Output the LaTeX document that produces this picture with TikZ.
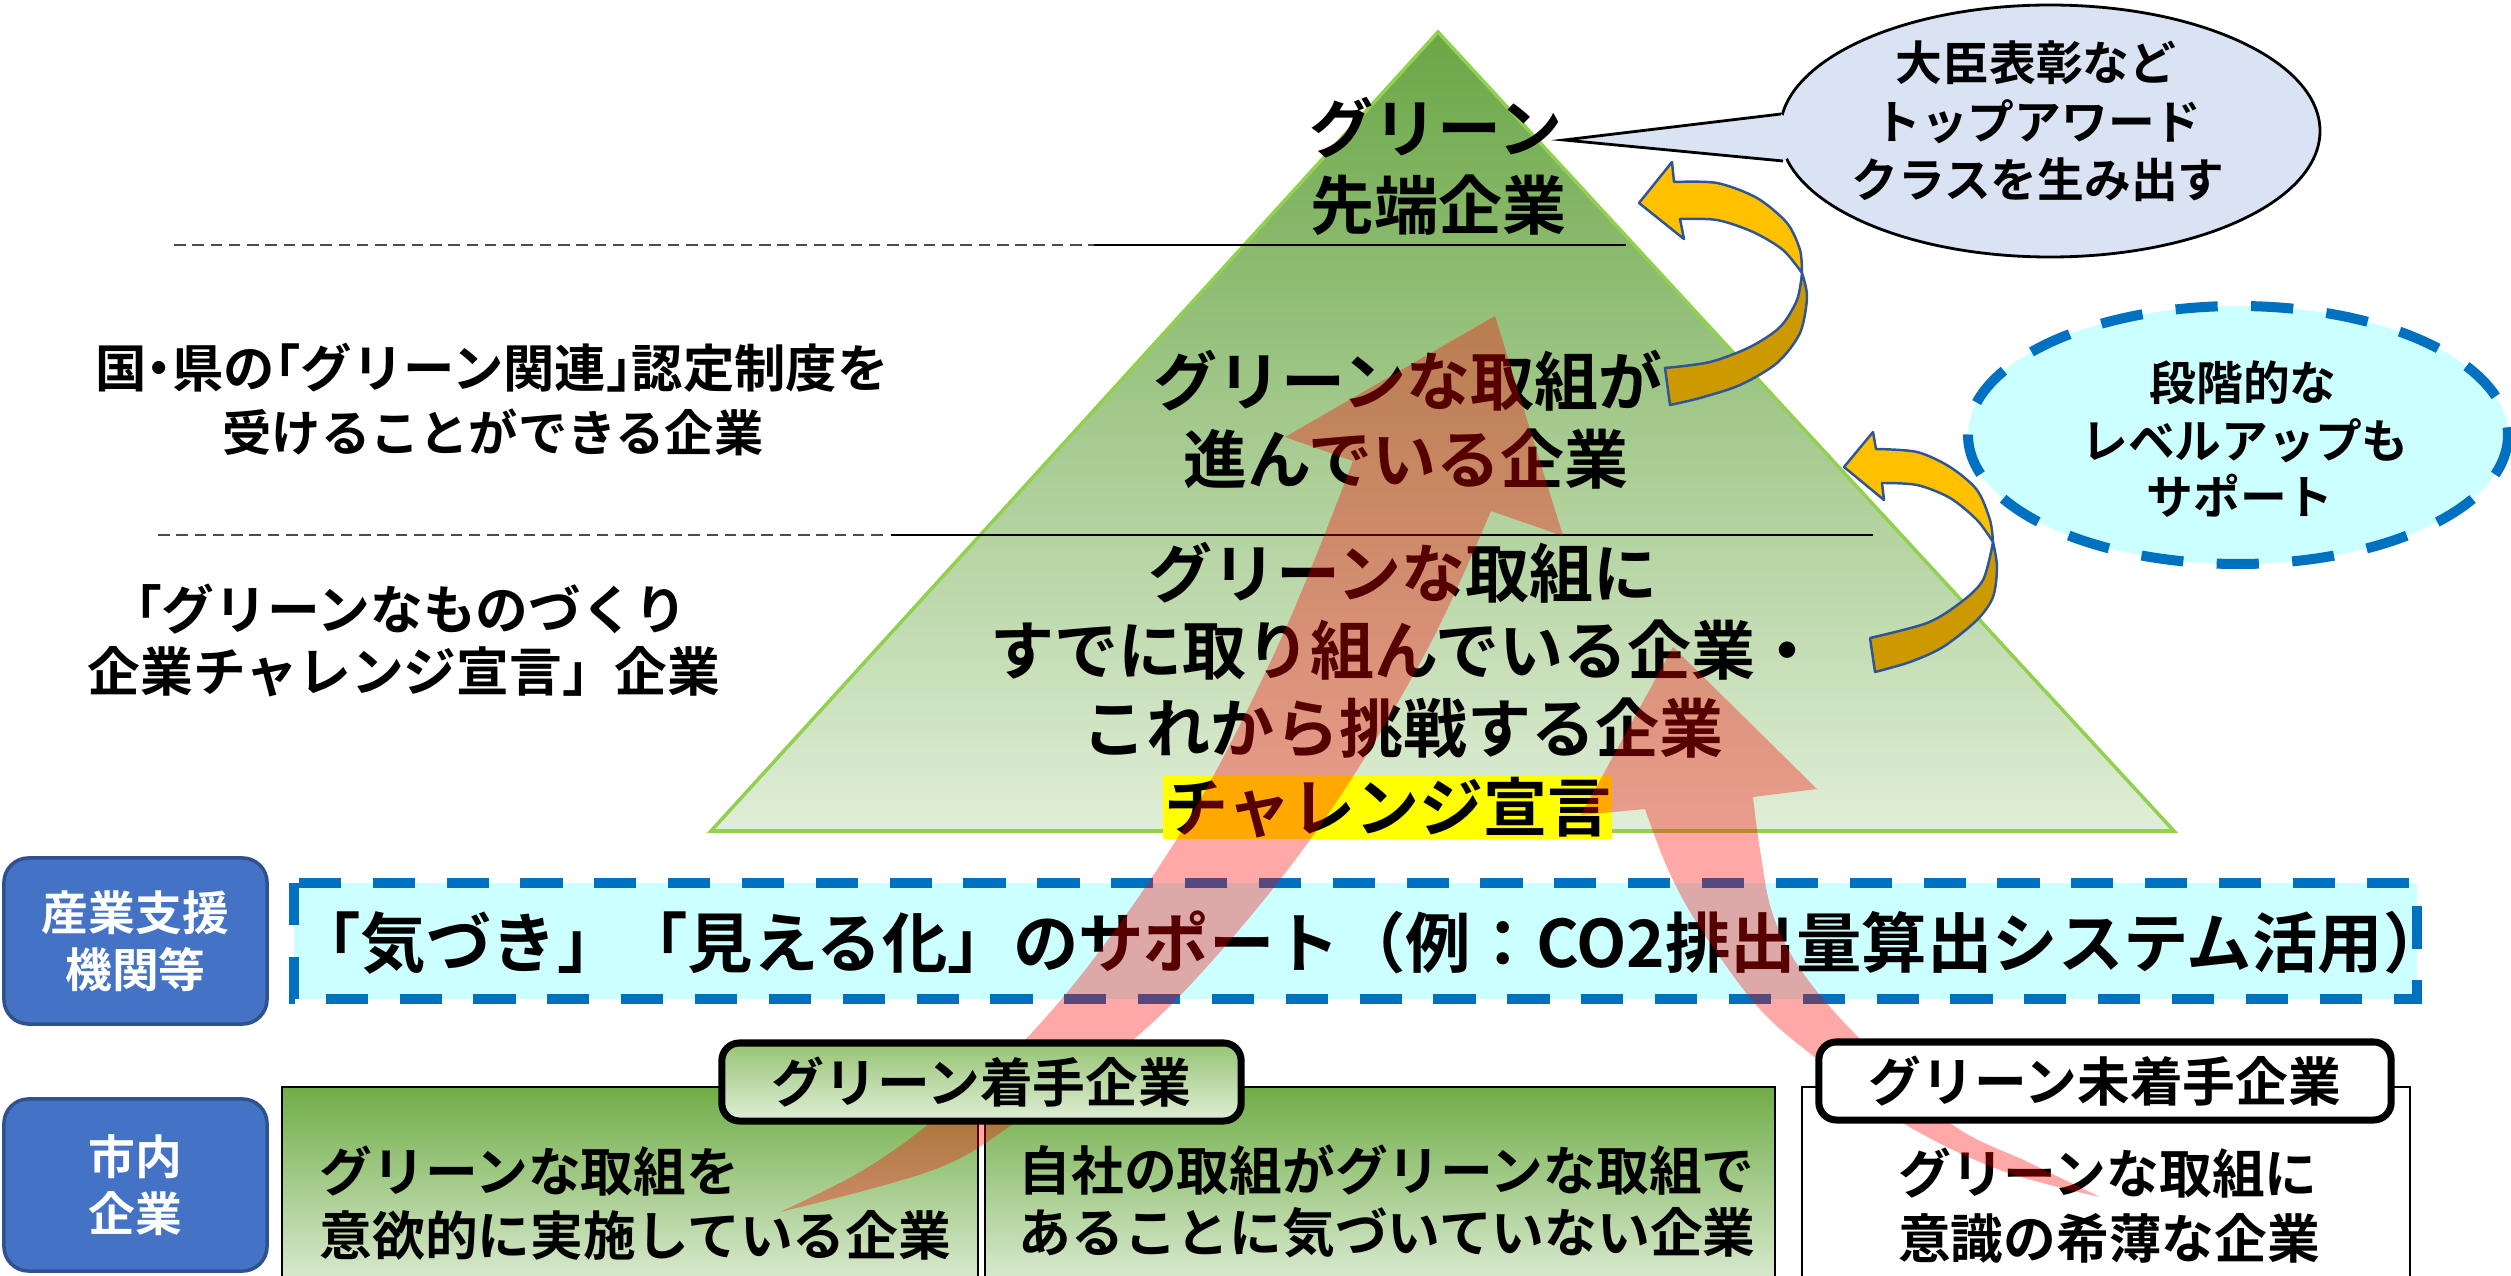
\documentclass[tikz,border=0pt]{standalone}
\usepackage{fontspec}
\setmainfont{Noto Sans CJK JP}[BoldFont=* Bold]
\definecolor{pyrtop}{RGB}{106,166,70}
\definecolor{pyrbot}{RGB}{224,238,215}
\definecolor{pyredge}{RGB}{146,208,80}
\definecolor{bubblefill}{RGB}{218,227,243}
\definecolor{cyanfill}{RGB}{204,255,255}
\definecolor{dashblue}{RGB}{0,112,192}
\definecolor{boxblue}{RGB}{68,114,196}
\definecolor{boxblueedge}{RGB}{47,82,143}
\definecolor{goldA}{RGB}{255,192,0}
\definecolor{goldB}{RGB}{204,153,0}
\definecolor{arrowedge}{RGB}{47,85,151}
\definecolor{hl}{RGB}{255,255,0}
\definecolor{gtop}{RGB}{112,173,71}
\definecolor{gmid}{RGB}{195,222,172}
\definecolor{gbot}{RGB}{222,237,214}
\definecolor{ltop}{RGB}{150,196,115}
\definecolor{lbot}{RGB}{224,238,216}
\newcommand\myBig{\fontsize{18.2pt}{22pt}\selectfont\bfseries}
\newcommand\mySup{\fontsize{18.6pt}{22pt}\selectfont\bfseries}
\newcommand\myMid{\fontsize{15pt}{18pt}\selectfont\bfseries}
\newcommand\mySml{\fontsize{13.3pt}{16.2pt}\selectfont\bfseries}
\newcommand\myLeft{\fontsize{14pt}{17pt}\selectfont\bfseries}
\newcommand\myLeftA{\fontsize{14.6pt}{17pt}\selectfont\bfseries}
\begin{document}
\begin{tikzpicture}[x=0.01cm,y=-0.01cm,
  bigtxt/.style={inner sep=0pt,font=\myBig},
  midtxt/.style={inner sep=0pt,font=\myMid},
  smltxt/.style={inner sep=0pt,font=\mySml},
  lefttxt/.style={inner sep=0pt,font=\myLeft},
  linedash/.style={draw=black!70,line width=0.5pt,dash pattern=on 3.3pt off 1.9pt},
  linesolid/.style={draw=black,line width=0.5pt},
  redarrow/.style={fill=red,fill opacity=0.34},
  goldup/.style={fill=goldA,draw=arrowedge,line width=0.7pt,line join=round},
  golddown/.style={fill=goldB,draw=arrowedge,line width=0.7pt,line join=round},
  labelbox/.style={draw=black,line width=2pt,rounded corners=5pt,inner sep=0pt,minimum height=0.78cm,font=\myMid},
  sidebox/.style={draw=boxblueedge,fill=boxblue,line width=1pt,rounded corners=7pt,minimum width=2.63cm,text=white,align=center,inner sep=0pt,font=\mySml},
  bluedash/.style={fill=cyanfill,draw=dashblue,line width=2.85pt,dash pattern=on 12pt off 9pt},
  lowbox/.style={draw=black,line width=0.6pt}
]
\useasboundingbox (0,0) rectangle (2511,1276);
\clip (0,0) rectangle (2511,1276);

% pyramid
\shadedraw[top color=pyrtop,bottom color=pyrbot,draw=pyredge,line width=1pt] (1438,32) -- (2174,831) -- (711,831) -- cycle;
\draw[linedash] (174,245) -- (1094,245);
\draw[linesolid] (1094,245) -- (1626,245);
\draw[linedash] (158,535) -- (883,535);
\draw[linesolid] (891,535) -- (1873,535);
\fill[hl] (1163,776) rectangle (1612,839);

% yellow curved arrows
\filldraw[goldup] plot[smooth] coordinates {(1674,182) (1717,183) (1757,198) (1787,223) (1800,250) (1802,273)} -- plot[smooth] coordinates {(1802,273) (1783,250) (1753,232) (1717,220) (1680,219)} -- (1684,239) -- (1639,203) -- (1672,162) -- cycle;
\filldraw[golddown] plot[smooth] coordinates {(1802,273) (1807,297) (1800,333) (1777,363) (1740,385) (1700,398) (1670,405)} -- (1665,368) -- plot[smooth] coordinates {(1665,368) (1710,362) (1750,347) (1780,327) (1797,300) (1802,273)} -- cycle;
\filldraw[goldup] plot[smooth] coordinates {(1876,449) (1917,452) (1950,467) (1977,490) (1990,520) (1993,542)} -- plot[smooth] coordinates {(1993,542) (1977,520) (1950,498) (1917,485) (1882,483)} -- (1884,500) -- (1844,467) -- (1873,432) -- cycle;
\filldraw[golddown] plot[smooth] coordinates {(1993,542) (1997,567) (1993,597) (1977,620) (1943,647) (1910,662) (1875,672)} -- (1870,638) -- plot[smooth] coordinates {(1870,638) (1927,623) (1960,603) (1983,580) (1993,542)} -- cycle;

% speech bubble
\draw[fill=bubblefill,line width=0.8pt] (2050,131) ellipse [x radius=270,y radius=126];
\fill[bubblefill] (1781,114) -- (1564,140) -- (1783,161) -- (1815,140) -- cycle;
\draw[line width=0.8pt,line join=miter] (1781,114) -- (1564,140) -- (1783,161);
\node[smltxt] (b1) at (2036,63) {大臣表彰など};
\node[smltxt] (b2) at (2038,122) {トップアワード};
\node[smltxt] (b3) at (2038,180) {クラスを生み出す};

% dashed ellipse
\draw[bluedash,dash pattern=on 12pt off 9.5pt] (2238,435) ellipse [x radius=270,y radius=129];
\node[smltxt] (e1) at (2243,383) {段階的な};
\node[smltxt] (e2) at (2245,441) {レベルアップも};
\node[smltxt] (e3) at (2240,496) {サポート};

% pyramid texts
\node[bigtxt] (p1) at (1436,128) {グリーン};
\node[bigtxt] (p2) at (1438,205) {先端企業};
\node[bigtxt] (p3) at (1408,381) {グリーンな取組が};
\node[bigtxt] (p4) at (1406,459) {進んでいる企業};
\node[bigtxt] (p5) at (1403,573) {グリーンな取組に};
\node[bigtxt] (p6) at (1405,650) {すでに取り組んでいる企業・};
\node[bigtxt] (p7) at (1403,728) {これから挑戦する企業};
\node[bigtxt] (chal) at (1388,808) {チャレンジ宣言};

% left texts
\node[inner sep=0pt,font=\myLeftA] (l1) at (492,368) {\addfontfeatures{RawFeature=+halt}国・県の「グリーン関連」認定制度を};
\node[lefttxt] (l2) at (493,432) {受けることができる企業};
\node[inner sep=0pt,font=\myMid] (l3) at (398,609) {「グリーンなものづくり};
\node[inner sep=0pt,font=\myMid] (l4) at (404,672) {企業チャレンジ宣言」企業};

% support box
\draw[bluedash] (294,883) rectangle (2417,999);
\node[inner sep=0pt,font=\mySup] (sup) at (1372,943) {「気づき」「見える化」のサポート（例：CO2排出量算出システム活用）};

% bottom boxes
\shadedraw[lowbox,top color=gtop,middle color=gmid,bottom color=gbot] (282,1087) rectangle (978,1290);
\shadedraw[lowbox,top color=gtop,middle color=gmid,bottom color=gbot] (985,1087) rectangle (1775,1290);
\filldraw[lowbox,fill=white] (1802,1087) rectangle (2410,1290);
\node[midtxt,anchor=west] (t1) at (319,1171) {グリーンな取組を};
\node[midtxt,anchor=west] (t2) at (319,1235) {意欲的に実施している企業};
\node[midtxt,anchor=west] (t3) at (1018,1170) {自社の取組がグリーンな取組で};
\node[midtxt,anchor=west] (t4) at (1018,1233) {あることに気づいていない企業};
\node[midtxt] (t5) at (2108,1173) {グリーンな取組に};
\node[midtxt] (t6) at (2109,1238) {意識の希薄な企業};

% red arrows
\fill[redarrow] plot[smooth,tension=0.6] coordinates {(780,1212) (933,1170) (1015,1123) (1133,1040) (1233,937) (1333,807) (1427,650) (1491,511)} -- (1563,536) -- (1495,316) -- (1285,437) -- plot[smooth,tension=0.6] coordinates {(1353,461) (1285,630) (1200,800) (1110,937) (1022,1043) (930,1123) (860,1172) (780,1212)} -- cycle;
\fill[redarrow] plot[smooth,tension=0.6] coordinates {(2100,1197) (2030,1163) (1950,1123) (1860,1039) (1803,973) (1773,915) (1760,850) (1753,797)} -- (1817,789) -- (1673,647) -- (1581,815) -- plot[smooth,tension=0.6] coordinates {(1645,809) (1667,867) (1697,923) (1757,1006) (1817,1059) (1903,1123) (2000,1170) (2100,1197)} -- cycle;

% labels
\node[labelbox,top color=ltop,bottom color=lbot,minimum width=5.19cm] (lab1) at (981.5,1082) {グリーン着手企業};
\node[labelbox,fill=white,minimum width=5.72cm] (lab2) at (2105,1081) {グリーン未着手企業};

% side boxes
\node[sidebox,minimum height=1.66cm] (sb1) at (135.5,941) {産業支援\\機関等};
\node[sidebox,minimum height=1.72cm] (sb2) at (135.5,1185) {市内\\企業};
\end{tikzpicture}
\end{document}
